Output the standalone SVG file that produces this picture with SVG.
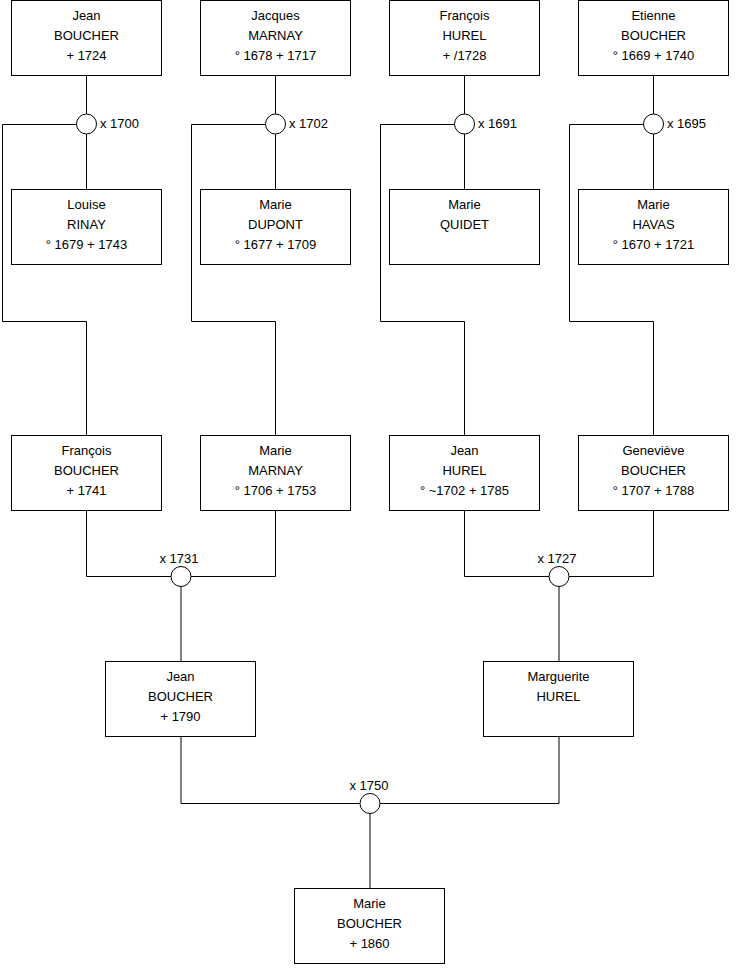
<svg xmlns="http://www.w3.org/2000/svg" width="740" height="975" viewBox="0 0 740 975">
<style>
.box{fill:#fff;stroke:#000;stroke-width:1}
.ring{fill:#fff;stroke:#000;stroke-width:1}
.ln{fill:none;stroke:#000;stroke-width:1}
text{font-family:"Liberation Sans",Arial,sans-serif;font-size:13px;fill:#000}
.c{text-anchor:middle}
</style>
<rect width="740" height="975" fill="#fff"/>
<g id="connectors">
<path class="ln" d="M86.5 76V114M86.5 134V189.5M76.5 124.5H2.5V321.5H86.5V435.5"/>
<path class="ln" d="M275.5 76V114M275.5 134V189.5M265.5 124.5H191.5V321.5H275.5V435.5"/>
<path class="ln" d="M464.5 76V114M464.5 134V189.5M454.5 124.5H380.5V321.5H464.5V435.5"/>
<path class="ln" d="M653.5 76V114M653.5 134V189.5M643.5 124.5H569.5V321.5H653.5V435.5"/>
<path class="ln" d="M86.5 511V576.5H275.5V511M181 586V661.5"/>
<path class="ln" d="M464.5 511V576.5H653.5V511M559 586V661.5"/>
<path class="ln" d="M181 737V803.5H559V737M370 813V888.5"/>
</g>
<g id="m1700"><circle class="ring" cx="86.5" cy="124" r="10"/><text x="100" y="128">x 1700</text></g>
<g id="m1702"><circle class="ring" cx="275.5" cy="124" r="10"/><text x="289" y="128">x 1702</text></g>
<g id="m1691"><circle class="ring" cx="464.5" cy="124" r="10"/><text x="478" y="128">x 1691</text></g>
<g id="m1695"><circle class="ring" cx="653.5" cy="124" r="10"/><text x="667" y="128">x 1695</text></g>
<g id="m1731"><circle class="ring" cx="181" cy="576.5" r="10"/><text class="c" x="179" y="562.5">x 1731</text></g>
<g id="m1727"><circle class="ring" cx="559" cy="576.5" r="10"/><text class="c" x="557" y="562.5">x 1727</text></g>
<g id="m1750"><circle class="ring" cx="370" cy="803.5" r="10"/><text class="c" x="369" y="789.5">x 1750</text></g>

<g id="jean_boucher_1724"><rect class="box" x="11.5" y="0.5" width="150" height="75"/><text class="c" x="86.5" y="20">Jean</text><text class="c" x="86.5" y="40">BOUCHER</text><text class="c" x="86.5" y="60">+ 1724</text></g>
<g id="jacques_marnay"><rect class="box" x="200.5" y="0.5" width="150" height="75"/><text class="c" x="275.5" y="20">Jacques</text><text class="c" x="275.5" y="40">MARNAY</text><text class="c" x="275.5" y="60">° 1678 + 1717</text></g>
<g id="francois_hurel"><rect class="box" x="389.5" y="0.5" width="150" height="75"/><text class="c" x="464.5" y="20">François</text><text class="c" x="464.5" y="40">HUREL</text><text class="c" x="464.5" y="60">+ /1728</text></g>
<g id="etienne_boucher"><rect class="box" x="578.5" y="0.5" width="150" height="75"/><text class="c" x="653.5" y="20">Etienne</text><text class="c" x="653.5" y="40">BOUCHER</text><text class="c" x="653.5" y="60">° 1669 + 1740</text></g>

<g id="louise_rinay"><rect class="box" x="11.5" y="189.5" width="150" height="75"/><text class="c" x="86.5" y="209">Louise</text><text class="c" x="86.5" y="229">RINAY</text><text class="c" x="86.5" y="249">° 1679 + 1743</text></g>
<g id="marie_dupont"><rect class="box" x="200.5" y="189.5" width="150" height="75"/><text class="c" x="275.5" y="209">Marie</text><text class="c" x="275.5" y="229">DUPONT</text><text class="c" x="275.5" y="249">° 1677 + 1709</text></g>
<g id="marie_quidet"><rect class="box" x="389.5" y="189.5" width="150" height="75"/><text class="c" x="464.5" y="209">Marie</text><text class="c" x="464.5" y="229">QUIDET</text></g>
<g id="marie_havas"><rect class="box" x="578.5" y="189.5" width="150" height="75"/><text class="c" x="653.5" y="209">Marie</text><text class="c" x="653.5" y="229">HAVAS</text><text class="c" x="653.5" y="249">° 1670 + 1721</text></g>

<g id="francois_boucher"><rect class="box" x="11.5" y="435.5" width="150" height="75"/><text class="c" x="86.5" y="455">François</text><text class="c" x="86.5" y="475">BOUCHER</text><text class="c" x="86.5" y="495">+ 1741</text></g>
<g id="marie_marnay"><rect class="box" x="200.5" y="435.5" width="150" height="75"/><text class="c" x="275.5" y="455">Marie</text><text class="c" x="275.5" y="475">MARNAY</text><text class="c" x="275.5" y="495">° 1706 + 1753</text></g>
<g id="jean_hurel"><rect class="box" x="389.5" y="435.5" width="150" height="75"/><text class="c" x="464.5" y="455">Jean</text><text class="c" x="464.5" y="475">HUREL</text><text class="c" x="464.5" y="495">° ~1702 + 1785</text></g>
<g id="genevieve_boucher"><rect class="box" x="578.5" y="435.5" width="150" height="75"/><text class="c" x="653.5" y="455">Geneviève</text><text class="c" x="653.5" y="475">BOUCHER</text><text class="c" x="653.5" y="495">° 1707 + 1788</text></g>

<g id="jean_boucher_1790"><rect class="box" x="105.5" y="661.5" width="150" height="75"/><text class="c" x="180.5" y="681">Jean</text><text class="c" x="180.5" y="701">BOUCHER</text><text class="c" x="180.5" y="721">+ 1790</text></g>
<g id="marguerite_hurel"><rect class="box" x="483.5" y="661.5" width="150" height="75"/><text class="c" x="558.5" y="681">Marguerite</text><text class="c" x="558.5" y="701">HUREL</text></g>

<g id="marie_boucher"><rect class="box" x="294.5" y="888.5" width="150" height="75"/><text class="c" x="369.5" y="908">Marie</text><text class="c" x="369.5" y="928">BOUCHER</text><text class="c" x="369.5" y="948">+ 1860</text></g>
</svg>
